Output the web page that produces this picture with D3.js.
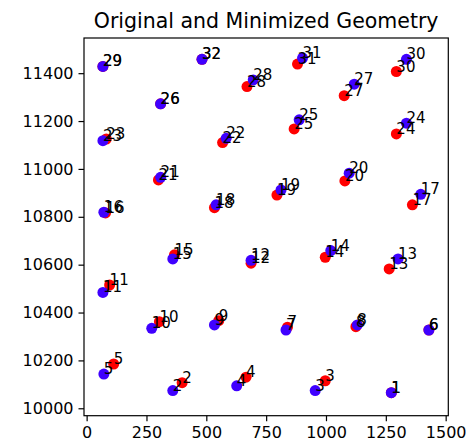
<!DOCTYPE html>
<html>
<head>
<meta charset="utf-8">
<script src="https://cdn.jsdelivr.net/npm/d3@7"></script>
<style>
  body { margin: 0; background: #fff; }
  svg { display: block; font-family: "DejaVu Sans", sans-serif; }
</style>
</head>
<body>
<svg id="chart" width="471" height="447"></svg>
<script>
// point ids, in drawing order
const ids = d3.range(1, 33);

// original geometry (red)
const origX = [1273, 399, 997, 666, 113, 1430, 839, 1125, 552, 304, 96, 687, 1264, 997, 367, 79,
               1361, 534, 795, 1079, 300, 568, 82, 1294, 867, 309, 1076, 670, 68, 1294, 881, 482];
const origY = [10065, 10107, 10115, 10130, 10185, 10327, 10339, 10341, 10366, 10362, 10515, 10606,
               10582, 10631, 10641, 10816, 10850, 10838, 10891, 10950, 10954, 11110, 11125, 11146,
               11167, 11272, 11306, 11344, 11428, 11407, 11438, 11458];

// minimized geometry (blue)
const minX = [1273, 360, 955, 627, 72, 1430, 833, 1131, 534, 272, 68, 687, 1301, 1020, 360, 72,
              1396, 541, 812, 1097, 309, 583, 68, 1336, 888, 309, 1118, 696, 68, 1336, 902, 482];
const minY = [10065, 10074, 10074, 10094, 10143, 10327, 10327, 10348, 10348, 10334, 10484, 10618,
              10624, 10659, 10624, 10819, 10894, 10850, 10912, 10982, 10965, 11128, 11118, 11191,
              11205, 11272, 11354, 11372, 11428, 11458, 11463, 11458];

const xTicks = [0, 250, 500, 750, 1000, 1250, 1500];
const yTicks = [10000, 10200, 10400, 10600, 10800, 11000, 11200, 11400];

const RADIUS = 5.5;
const FONT = 16;
const LABEL_FONT = 15;

const svg = d3.select("#chart");
const m = { left: 84, right: 448.3, top: 38, bottom: 415.7 };

const x = d3.scaleLinear().domain([-11, 1511]).range([m.left, m.right]);
const y = d3.scaleLinear().domain([9969, 11547]).range([m.bottom, m.top]);

const orig = ids.map((id, i) => ({ id, x: origX[i], y: origY[i] }));
const mini = ids.map((id, i) => ({ id, x: minX[i], y: minY[i] }));

// axes
const xAxis = svg.append("g")
  .attr("transform", `translate(0,${m.bottom})`)
  .call(d3.axisBottom(x).tickValues(xTicks).tickFormat(d3.format("d")).tickSize(5.5).tickPadding(5).tickSizeOuter(0));
const yAxis = svg.append("g")
  .attr("transform", `translate(${m.left},0)`)
  .call(d3.axisLeft(y).tickValues(yTicks).tickFormat(d3.format("d")).tickSize(5.5).tickPadding(5).tickSizeOuter(0));

[xAxis, yAxis].forEach((g) => {
  g.select(".domain").remove();
  g.selectAll("line").attr("stroke", "#000").attr("stroke-width", 1.2);
  g.selectAll("text")
    .attr("fill", "#000")
    .style("font-family", "DejaVu Sans")
    .style("font-size", FONT + "px");
});

// frame
svg.append("rect")
  .attr("x", m.left)
  .attr("y", m.top)
  .attr("width", m.right - m.left)
  .attr("height", m.bottom - m.top)
  .attr("fill", "none")
  .attr("stroke", "#000")
  .attr("stroke-width", 1.2);

// points
svg.append("g")
  .selectAll("circle")
  .data(orig)
  .join("circle")
  .attr("cx", (d) => x(d.x))
  .attr("cy", (d) => y(d.y))
  .attr("r", RADIUS)
  .attr("fill", "#ff0000");

svg.append("g")
  .selectAll("circle")
  .data(mini)
  .join("circle")
  .attr("cx", (d) => x(d.x))
  .attr("cy", (d) => y(d.y))
  .attr("r", RADIUS)
  .attr("fill", "#3f00ff");

// labels for both sets, left/baseline at the point
svg.append("g")
  .selectAll("text")
  .data(orig.concat(mini))
  .join("text")
  .attr("x", (d) => x(d.x))
  .attr("y", (d) => y(d.y))
  .attr("font-size", LABEL_FONT)
  .attr("fill", "#000")
  .text((d) => d.id);

// title
svg.append("text")
  .attr("x", (m.left + m.right) / 2)
  .attr("y", 28)
  .attr("text-anchor", "middle")
  .attr("font-size", 20.5)
  .attr("fill", "#000")
  .text("Original and Minimized Geometry");
</script>
</body>
</html>
